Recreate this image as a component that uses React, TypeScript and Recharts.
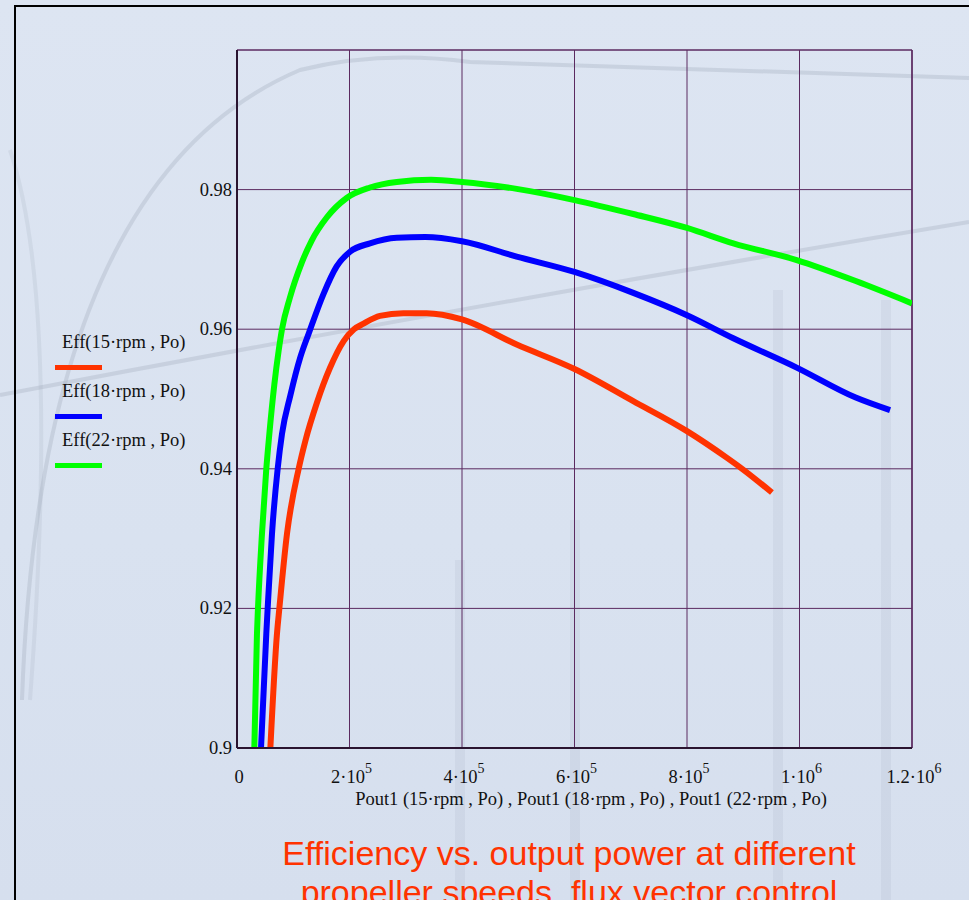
import { LineChart, Line, XAxis, YAxis, CartesianGrid, ReferenceLine } from "recharts";

// 15 rpm
const powerRpm15 = [59300, 71100, 75300, 88900, 109600, 121500, 142200, 165000, 189600, 208000, 225000, 254000, 295600, 337200, 400000, 497200, 600000, 704500, 800000, 870500, 898000, 951000];
const effRpm15 = [0.9, 0.9164, 0.92, 0.9307, 0.94, 0.944, 0.9495, 0.9544, 0.9583, 0.96, 0.9608, 0.9619, 0.9623, 0.9623, 0.9614, 0.9578, 0.9543, 0.9497, 0.9454, 0.9416, 0.94, 0.9366];

// 18 rpm
const powerRpm18 = [42700, 52100, 54500, 62200, 72300, 80000, 94800, 112600, 128000, 153500, 177200, 200900, 236400, 284000, 335000, 400000, 497200, 600000, 704500, 800000, 882300, 995000, 1100000, 1161000];
const effRpm18 = [0.9, 0.9164, 0.92, 0.9307, 0.94, 0.945, 0.9505, 0.956, 0.9595, 0.965, 0.969, 0.9711, 0.9723, 0.9731, 0.9732, 0.9726, 0.9704, 0.9682, 0.9652, 0.962, 0.9587, 0.9545, 0.9502, 0.9484];

// 22 rpm
const powerRpm22 = [30800, 35500, 37300, 44400, 52100, 57500, 66400, 74000, 80000, 94000, 115000, 132800, 159500, 195000, 236400, 284000, 345000, 400000, 497200, 600000, 704500, 800000, 882300, 995000, 1100000, 1200000];
const effRpm22 = [0.9, 0.9164, 0.92, 0.9307, 0.94, 0.945, 0.9521, 0.9569, 0.96, 0.9645, 0.9695, 0.9727, 0.976, 0.9788, 0.9803, 0.9811, 0.9814, 0.9811, 0.9801, 0.9785, 0.9765, 0.9745, 0.9723, 0.9699, 0.9669, 0.9637];

const xTicks = [0, 200000, 400000, 600000, 800000, 1000000, 1200000];
const xTickLabels = [["0", ""], ["2·10", "5"], ["4·10", "5"], ["6·10", "5"], ["8·10", "5"], ["1·10", "6"], ["1.2·10", "6"]];
const yTicks = [0.9, 0.92, 0.94, 0.96, 0.98];
const yTickLabels = ["0.9", "0.92", "0.94", "0.96", "0.98"];

const seriesNames = ["Eff(15·rpm , Po)", "Eff(18·rpm , Po)", "Eff(22·rpm , Po)"];
const seriesColors = ["#ff3300", "#0000ff", "#00ff00"];

const toPoints = (p: number[], e: number[]) => p.map((v, i) => ({ p: v, eff: e[i] }));
const seriesData = [toPoints(powerRpm15, effRpm15), toPoints(powerRpm18, effRpm18), toPoints(powerRpm22, effRpm22)];

const serif = '"Liberation Serif", "DejaVu Serif", serif';
const gridColor = "#5b2a60";

const XTick = (props: any) => {
  const { x, y, payload } = props;
  const idx = xTicks.indexOf(payload.value);
  const [base, sup] = xTickLabels[idx] || [String(payload.value), ""];
  return (
    <text x={x + (sup ? 2 : 2)} y={y + 27} textAnchor="middle" fontFamily={serif} fontSize={18.5} fill="#111">
      {base}
      {sup && (
        <tspan dy={-10} fontSize={14}>
          {sup}
        </tspan>
      )}
    </text>
  );
};

const YTick = (props: any) => {
  const { y, payload } = props;
  const idx = yTicks.indexOf(payload.value);
  return (
    <text x={232} y={y + 6} textAnchor="end" fontFamily={serif} fontSize={18.5} fill="#111">
      {yTickLabels[idx]}
    </text>
  );
};

export default function App() {
  return (
    <div
      style={{
        position: "fixed",
        left: 0,
        top: 0,
        width: 969,
        height: 900,
        overflow: "hidden",
        background: "linear-gradient(180deg, #dde5f2 0%, #d9e2f0 60%, #d6dfee 100%)",
      }}
    >
      {/* faint watermark strokes */}
      <svg width={969} height={900} style={{ position: "absolute", left: 0, top: 0 }}>
        <g fill="none" stroke="#9aa4b6" strokeOpacity={0.3} strokeWidth={4}>
          <path d="M 22 700 Q 40 180 300 70 Q 380 50 470 62 Q 700 70 969 78" />
          <path d="M 0 395 Q 500 300 969 222" />
          <path d="M 10 150 Q 60 300 30 700" strokeOpacity={0.18} />
        </g>
        <g stroke="#9aa4b6" strokeOpacity={0.14} strokeWidth={10}>
          <line x1={460} y1={560} x2={460} y2={900} />
          <line x1={575} y1={520} x2={575} y2={900} />
          <line x1={778} y1={290} x2={778} y2={900} />
          <line x1={886} y1={300} x2={886} y2={900} />
        </g>
      </svg>
      <div
        style={{
          position: "absolute",
          left: 14,
          top: 5,
          width: 1200,
          height: 1200,
          borderLeft: "2px solid #000",
          borderTop: "2px solid #000",
        }}
      />
      <div style={{ position: "absolute", left: 0, top: 0 }}>
        <LineChart width={969} height={900} margin={{ top: 50, right: 57, bottom: 0, left: 0 }}>
          <CartesianGrid stroke={gridColor} strokeWidth={1} horizontalValues={yTicks} verticalValues={xTicks} />
          <XAxis
            type="number"
            dataKey="p"
            domain={[0, 1200000]}
            ticks={xTicks}
            tick={<XTick />}
            tickLine={false}
            height={152}
            stroke="#2a1430"
            strokeWidth={2}
            allowDataOverflow
          />
          <YAxis
            type="number"
            domain={[0.9, 1.0]}
            ticks={yTicks}
            tick={<YTick />}
            tickLine={false}
            width={237}
            stroke="#2a1430"
            strokeWidth={2}
            allowDataOverflow
          />
          <ReferenceLine y={1.0} stroke={gridColor} strokeWidth={1.5} />
          <ReferenceLine x={1200000} stroke={gridColor} strokeWidth={1.5} />
          {seriesData.map((d, i) => (
            <Line
              key={seriesNames[i]}
              data={d}
              dataKey="eff"
              type="monotone"
              stroke={seriesColors[i]}
              strokeWidth={6}
              dot={false}
              activeDot={false}
              isAnimationActive={false}
            />
          ))}
        </LineChart>
      </div>
      {/* axis title */}
      <div
        style={{
          position: "absolute",
          left: 291,
          top: 789,
          width: 600,
          textAlign: "center",
          fontFamily: serif,
          fontSize: 18.5,
          lineHeight: "20px",
          color: "#111",
          whiteSpace: "nowrap",
        }}
      >
        Pout1 (15·rpm , Po) , Pout1 (18·rpm , Po) , Pout1 (22·rpm , Po)
      </div>
      {/* legend */}
      {seriesNames.map((name, i) => (
        <div key={name}>
          <div
            style={{
              position: "absolute",
              left: 62,
              top: 332 + i * 49,
              fontFamily: serif,
              fontSize: 18.5,
              lineHeight: "21px",
              color: "#111",
              whiteSpace: "nowrap",
            }}
          >
            {name}
          </div>
          <div
            style={{
              position: "absolute",
              left: 55,
              top: 365 + i * 49,
              width: 47,
              height: 5,
              background: seriesColors[i],
            }}
          />
        </div>
      ))}
      {/* caption */}
      <div
        style={{
          position: "absolute",
          left: 169,
          top: 834,
          width: 800,
          textAlign: "center",
          fontFamily: '"Liberation Sans", Arial, sans-serif',
          fontSize: 34,
          lineHeight: "39px",
          color: "#ff3300",
        }}
      >
        Efficiency vs. output power at different
        <br />
        propeller speeds, flux vector control
      </div>
    </div>
  );
}
